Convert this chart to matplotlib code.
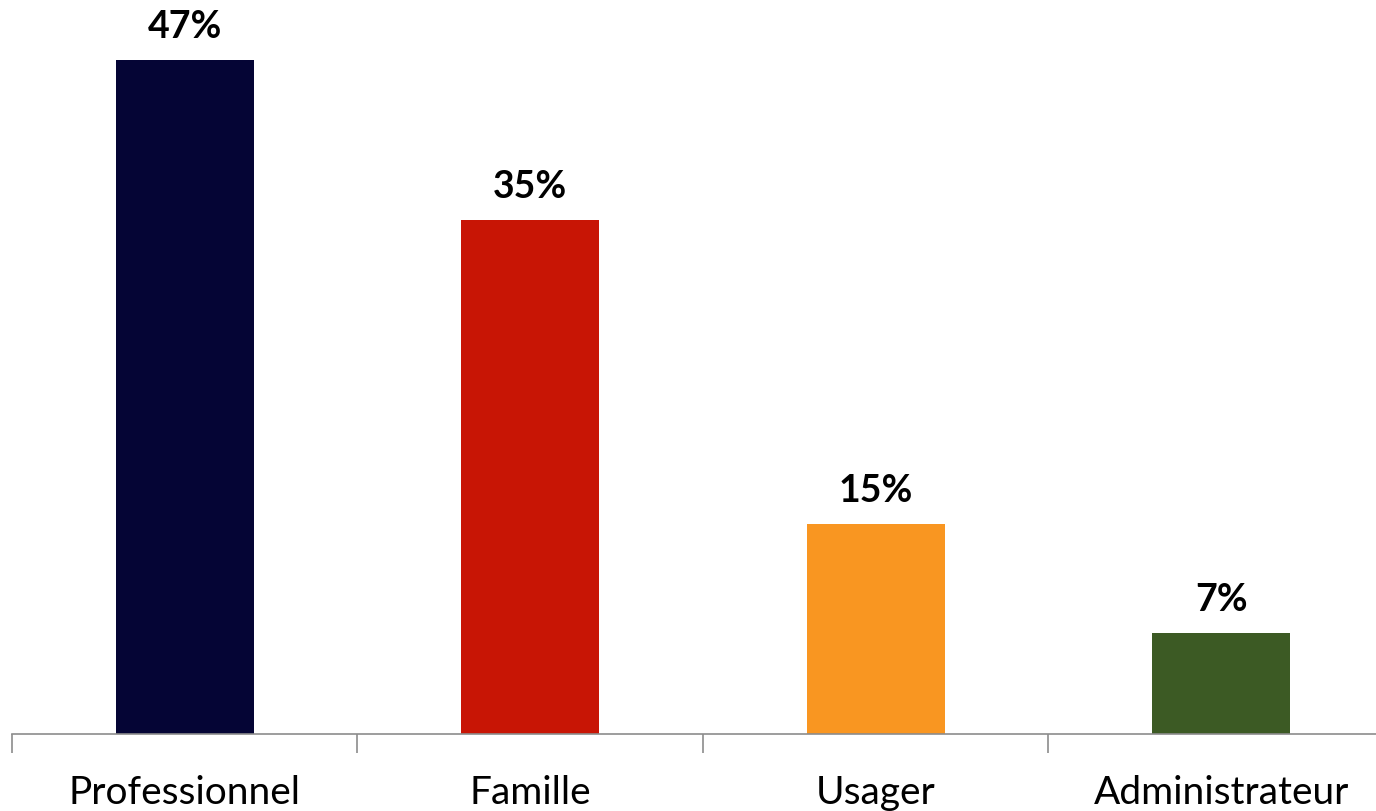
import numpy as np
import matplotlib
matplotlib.use("Agg")
from matplotlib import pyplot as plt

categories = ['Professionnel', 'Famille', 'Usager', 'Administrateur']
values = [46.8, 35.7, 14.6, 7.0]
labels = ['47%', '35%', '15%', '7%']
colors = ['#050535', '#C81505', '#F99621', '#3C5A24']

W, H = 1376, 812
fig = plt.figure(figsize=(W / 100, H / 100), dpi=100)
# axis spans past the right edge, like the original crop
ax = fig.add_axes([12 / W, 77 / H, 1382 / W, 735 / H])

x = np.arange(len(categories))
ax.bar(x, values, width=0.4, color=colors)
for xi, v, lab in zip(x, values, labels):
    ax.annotate(lab, (xi, v), xytext=(0, 17), textcoords='offset pixels',
                ha='center', va='bottom', fontsize=27, fontweight='bold',
                family='Lato')

ax.set_xlim(-0.5, 3.5)
ax.set_ylim(0, 735 / 14.4)
ax.set_xticks(x)
ax.set_xticklabels(categories, fontsize=28, family='Lato')
ax.set_xticks(np.arange(-0.5, 4.0, 1.0), minor=True)
ax.tick_params(axis='x', which='major', length=0, pad=29)
ax.tick_params(axis='x', which='minor', length=14, width=1.2, color='#8c8c8c')
ax.set_yticks([])
for s in ['top', 'right', 'left']:
    ax.spines[s].set_visible(False)
ax.spines['bottom'].set_color('#8c8c8c')
ax.spines['bottom'].set_linewidth(1.2)

plt.savefig('out.png', dpi=100)
plt.close('all')
